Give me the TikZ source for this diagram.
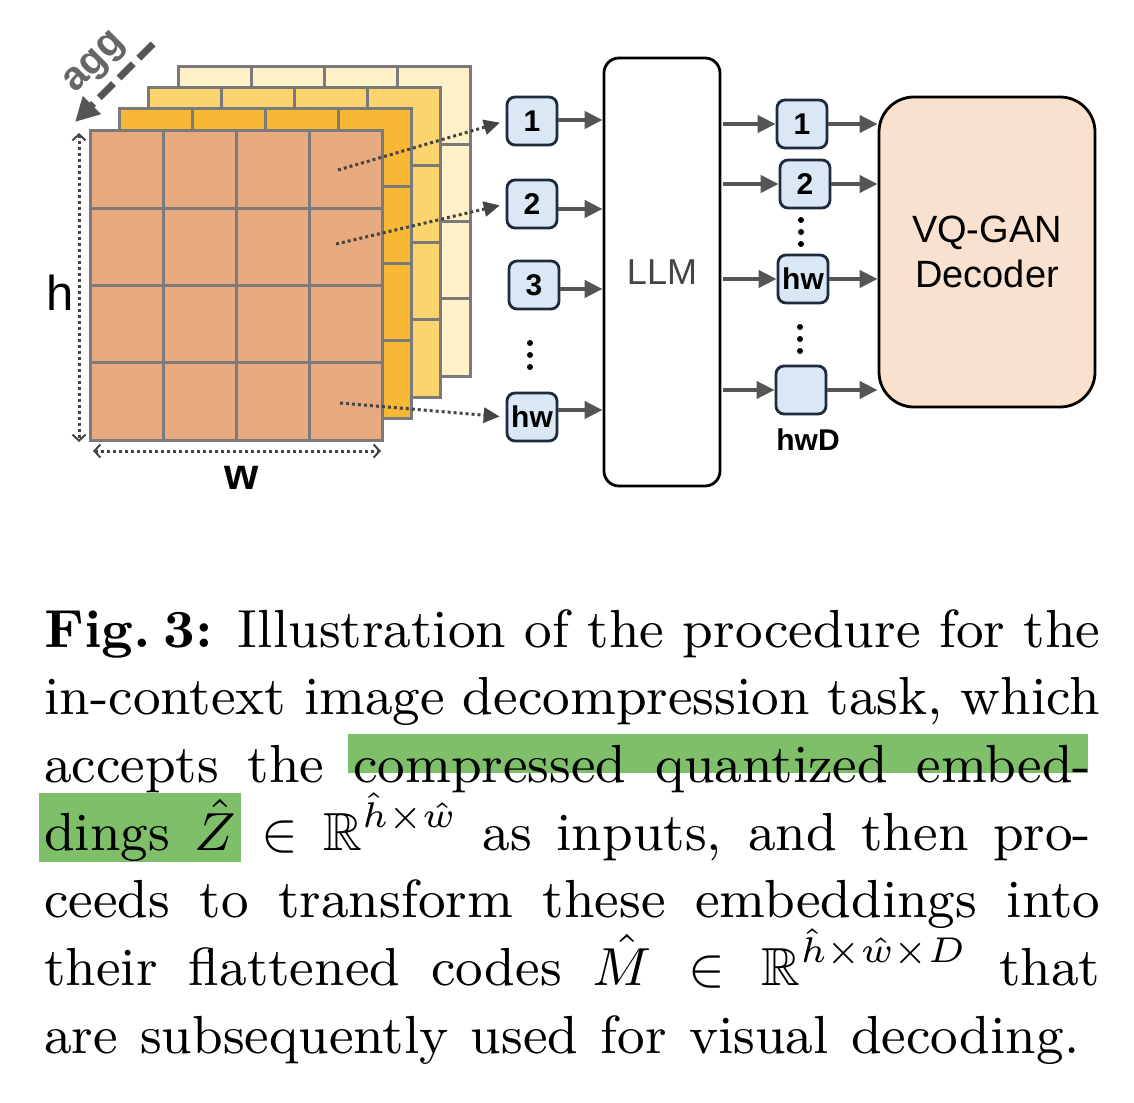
\documentclass[tikz,border=0pt]{standalone}
\usepackage{amssymb}
\usepackage{fontspec}
\newfontfamily\arial{Liberation Sans}
\usetikzlibrary{arrows.meta,calc}
\definecolor{layerA}{HTML}{E8A97E}
\definecolor{layerB}{HTML}{F6B835}
\definecolor{layerC}{HTML}{FCD46E}
\definecolor{layerD}{HTML}{FEF0C8}
\definecolor{gridgray}{HTML}{7A7A7A}
\definecolor{tokborder}{HTML}{1E2B3C}
\definecolor{tokfill}{HTML}{DAE8F6}
\definecolor{arrgray}{HTML}{555555}
\definecolor{dotgray}{HTML}{444444}
\definecolor{llmtext}{HTML}{444444}
\definecolor{decfill}{HTML}{F8E1CF}
\definecolor{agggray}{HTML}{666666}
\definecolor{hlgreen}{HTML}{7FBF6A}
\begin{document}
\begin{tikzpicture}[x=1pt,y=-1pt,
  gridline/.style={draw=gridgray,line width=3pt},
  tok/.style={draw=tokborder,fill=tokfill,line width=2.8pt,rounded corners=8pt,
    minimum width=50pt,minimum height=48pt,inner sep=0pt,
    font=\arial\bfseries\fontsize{30}{30}\selectfont},
  garr/.style={draw=arrgray,line width=4pt,-{Triangle[length=18pt,width=17pt]}},
  dotarr/.style={draw=dotgray,line width=3pt,dash pattern=on 3pt off 3pt,
    -{Triangle[length=16pt,width=15pt]}},
  dimarr/.style={draw=dotgray,line width=3pt,dash pattern=on 3pt off 3pt,
    {Straight Barb[length=6pt,width=13pt,line width=2pt]}-{Straight Barb[length=6pt,width=13pt,line width=2pt]}},
  aggarr/.style={draw=arrgray,line width=7pt,dash pattern=on 20pt off 8pt,
    -{Triangle[length=24pt,width=24pt]}},
  capline/.style={anchor=base west,inner sep=0pt,scale=5.96,
    font=\fontsize{9}{11}\selectfont},
  dotfill/.style={fill=black}
]
\useasboundingbox (0,0) rectangle (1134,1102);

% stacked layers
\foreach \dx/\dy/\col in {88/-64/layerD,58/-43/layerC,29/-22/layerB,0/0/layerA}{
  \begin{scope}[shift={(\dx,\dy)}]
    \fill[\col] (90,131) rectangle (382,440);
    \foreach \i in {1,2,3}{
      \draw[gridline] ({90+73*\i},131) -- ({90+73*\i},440);
      \draw[gridline] (90,{131+77.25*\i}) -- (382,{131+77.25*\i});
    }
    \draw[gridline] (90,131) rectangle (382,440);
  \end{scope}
}

% agg arrow and label
\coordinate (aggS) at (153,44);
\coordinate (aggE) at (75,122);
\draw[aggarr] (aggS) -- (aggE);
\node[rotate=45,text=agggray,inner sep=0pt,font=\arial\bfseries\fontsize{40}{40}\selectfont] (agg) at (96,64) {agg};

% dimensions
\coordinate (hT) at (79,133);
\coordinate (hB) at (79,442);
\draw[dimarr] (hT) -- (hB);
\coordinate (wL) at (93,451);
\coordinate (wR) at (381,451);
\draw[dimarr] (wL) -- (wR);
\node[inner sep=0pt,font=\arial\fontsize{49}{49}\selectfont] (hlab) at (60,293) {h};
\node[inner sep=0pt,font=\arial\bfseries\fontsize{44}{44}\selectfont] (wlab) at (242,478) {w};

% input tokens
\node[tok] (in1) at (532,121) {1};
\node[tok] (in2) at (532,204) {2};
\node[tok] (in3) at (534,285) {3};
\node[tok] (inhw) at (532,417) {hw};
\foreach \yy in {343,355,367}{\fill[dotfill] (530,\yy) circle (3pt);}

% dotted arrows from cells
\coordinate (c1) at (338,170);
\coordinate (c2) at (336,244);
\coordinate (c3) at (340,403);
\draw[dotarr,shorten >=6pt] (c1) -- (in1.west);
\draw[dotarr,shorten >=6pt] (c2) -- (in2.west);
\draw[dotarr,shorten >=6pt] (c3) -- (inhw.west);

% LLM
\node[draw=black,fill=white,line width=2.8pt,rounded corners=15pt,minimum width=116pt,
  minimum height=428pt,text=llmtext,font=\arial\fontsize{36}{36}\selectfont] (llm) at (662,272) {LLM};

\draw[garr] ([yshift=1pt]in1.east) -- ([yshift=1pt]in1.east -| llm.west);
\draw[garr] ([yshift=-5pt]in2.east) -- ([yshift=-5pt]in2.east -| llm.west);
\draw[garr] ([yshift=-4pt]in3.east) -- ([yshift=-4pt]in3.east -| llm.west);
\draw[garr] ([yshift=7pt]inhw.east) -- ([yshift=7pt]inhw.east -| llm.west);

% output tokens
\node[tok] (o1) at (802,124) {1};
\node[tok] (o2) at (805,184) {2};
\node[tok] (ohw) at (803,279) {hw};
\node[tok] (oD) at (801,390) {};
\node[inner sep=0pt,font=\arial\bfseries\fontsize{30}{30}\selectfont] (hwD) at (808,440) {hwD};
\foreach \yy in {220,232,244}{\fill[dotfill] (801,\yy) circle (3pt);}
\foreach \yy in {327,339,351}{\fill[dotfill] (800,\yy) circle (3pt);}

\draw[garr,shorten <=2pt] (llm.east |- o1.west) -- (o1.west);
\draw[garr,shorten <=2pt] (llm.east |- o2.west) -- (o2.west);
\draw[garr,shorten <=2pt] (llm.east |- ohw.west) -- (ohw.west);
\draw[garr,shorten <=2pt] (llm.east |- oD.west) -- (oD.west);

% decoder
\node[draw=black,fill=decfill,line width=2.8pt,rounded corners=35pt,minimum width=216pt,
  minimum height=310pt,align=center,font=\arial\fontsize{38}{45}\selectfont] (dec) at (987,252) {VQ-GAN\\Decoder};

\draw[garr] (o1.east) -- (o1.east -| dec.west);
\draw[garr] (o2.east) -- (o2.east -| dec.west);
\draw[garr] (ohw.east) -- (ohw.east -| dec.west);
\draw[garr] (oD.east) -- (oD.east -| dec.west);

% caption highlights
\fill[hlgreen] (348,734) rectangle (1088,773);
\fill[hlgreen] (39,793) rectangle (241,862);

% caption
\node[capline] (l1) at (43,647) {\makebox[177.2pt][s]{\textbf{Fig.\hspace{2.1pt}3:} Illustration of the procedure for the}};
\node[capline] (l2) at (43,714.7) {\makebox[177.2pt][s]{in-context image decompression task, which}};
\node[capline] (l3) at (43,782.4) {\makebox[175.7pt][s]{accepts the compressed quantized embed-}};
\node[capline] (l4) at (43,850.1) {\makebox[175.7pt][s]{dings $\hat{Z} \in \mathbb{R}^{\hat{h}\times\hat{w}}$ as inputs, and then pro-}};
\node[capline] (l5) at (43,917.8) {\makebox[177.2pt][s]{ceeds to transform these embeddings into}};
\node[capline] (l6) at (43,985.5) {\makebox[177.2pt][s]{their flattened codes $\hat{M} \in \mathbb{R}^{\hat{h}\times\hat{w}\times D}$ that}};
\node[capline] (l7) at (43,1053.2) {\makebox[173.7pt][s]{are subsequently used for visual decoding.}};
\end{tikzpicture}
\end{document}
